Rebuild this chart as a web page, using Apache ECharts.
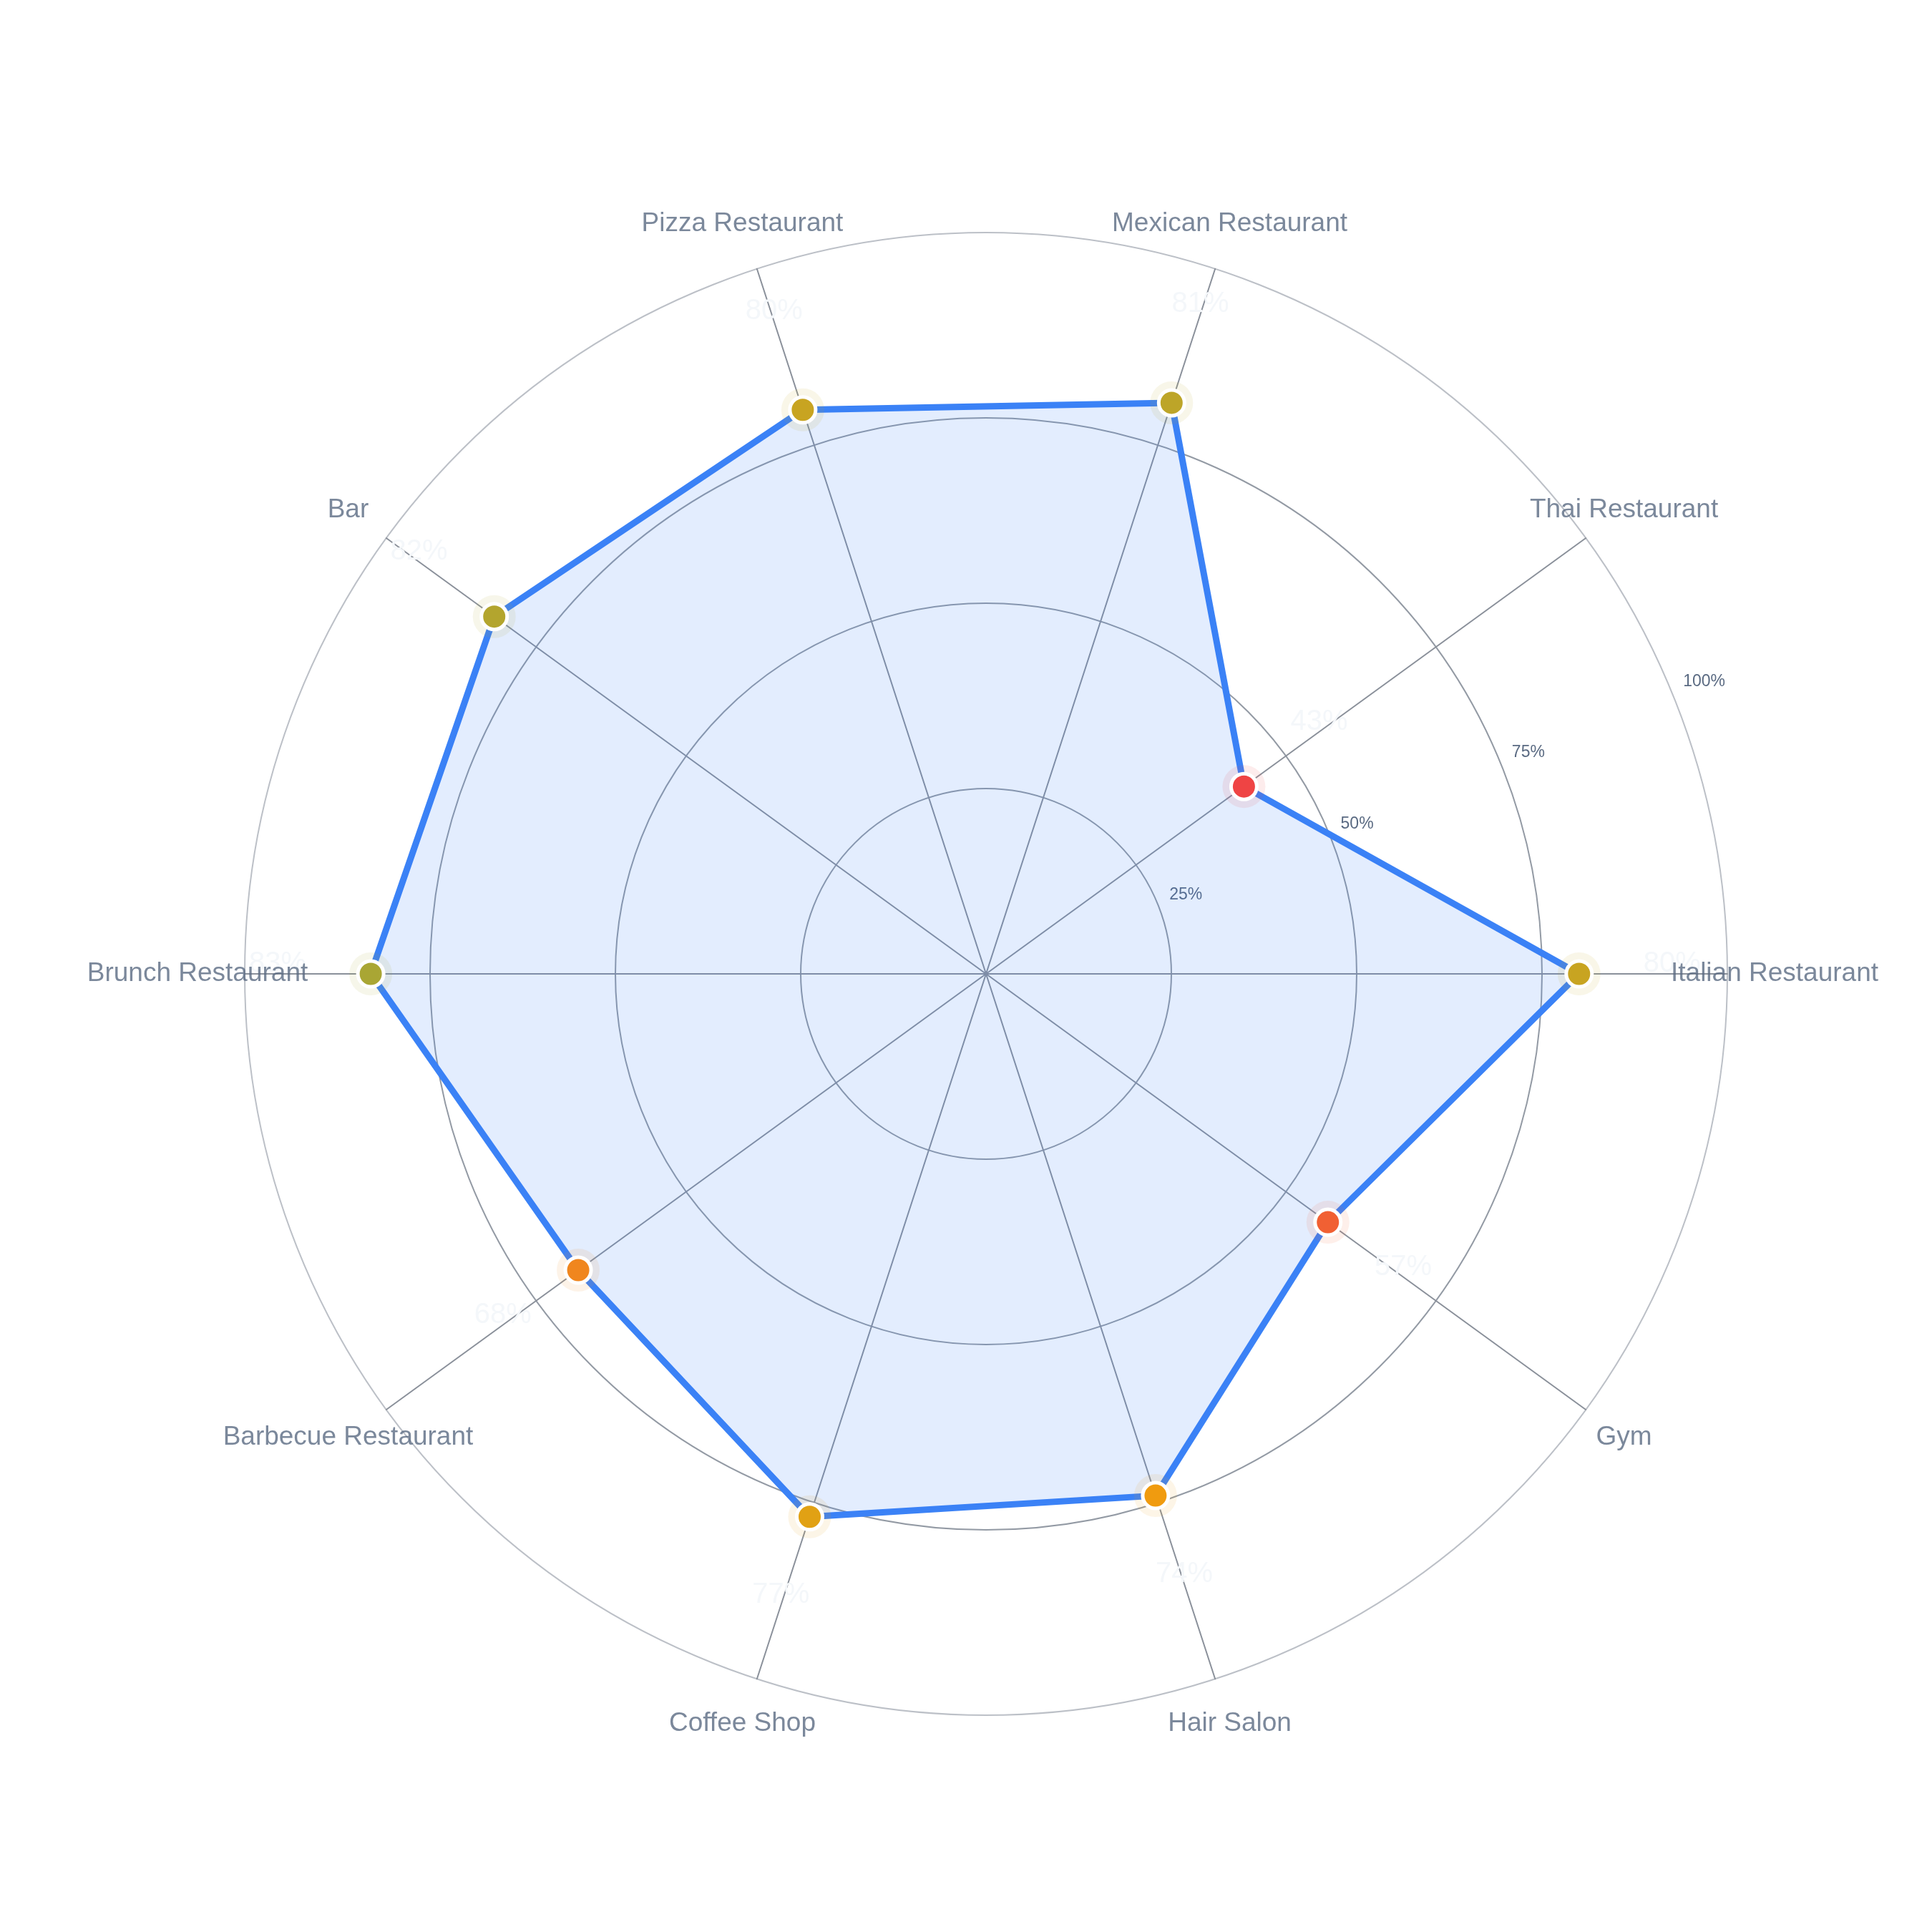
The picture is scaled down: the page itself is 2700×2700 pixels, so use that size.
<!DOCTYPE html>
<html>
<head>
<meta charset="utf-8">
<title>Category score radar</title>
<script src="https://cdn.jsdelivr.net/npm/echarts@6/dist/echarts.min.js"></script>
<style>
  html, body { margin: 0; padding: 0; background: #ffffff; }
  #chart { width: 2700px; height: 2700px; }
</style>
</head>
<body>
<div id="chart"></div>
<script>
  // data
  var categories = [
    'Italian Restaurant', 'Thai Restaurant', 'Mexican Restaurant', 'Pizza Restaurant', 'Bar',
    'Brunch Restaurant', 'Barbecue Restaurant', 'Coffee Shop', 'Hair Salon', 'Gym'
  ];
  var scores = [80, 43, 81, 80, 82, 83, 68, 77, 74, 57];
  var scoreMax = 100;
  var scoreStep = 25;

  // layout
  var center = [1378, 1361];
  var radius = 1036;
  var font = '"Liberation Sans", Arial, sans-serif';
  var slate = '#5a6a82';

  // radial offset along category i's spoke
  function spokeOffset(i, dist, lift) {
    var a = i * 2 * Math.PI / categories.length;
    return [Math.cos(a) * dist, -Math.sin(a) * dist - lift];
  }

  var pointData = scores.map(function (v, i) {
    return { value: [v, categories[i]], label: { offset: spokeOffset(i, 130, 14) } };
  });
  var haloData = scores.map(function (v, i) {
    return { value: [v, categories[i]] };
  });
  var nameData = categories.map(function (c, i) {
    return { value: [scoreMax, c], label: { offset: spokeOffset(i, 66, 0) } };
  });

  var chart = echarts.init(document.getElementById('chart'));
  var option = {
    backgroundColor: '#ffffff',
    animation: false,
    radar: {
      center: center,
      radius: radius,
      startAngle: 0,
      shape: 'circle',
      splitNumber: 4,
      indicator: categories.map(function (c) { return { name: c, min: 0, max: scoreMax }; }),
      axisName: { show: false },
      axisLine: { lineStyle: { color: '#8a909a', width: 2 } },
      axisTick: { show: false },
      axisLabel: { show: false },
      splitArea: { show: false },
      splitLine: {
        lineStyle: { color: ['#939aa4', '#939aa4', '#939aa4', '#939aa4', '#bcc0c7'], width: 2 }
      }
    },
    polar: [
      { center: center, radius: radius },
      { center: center, radius: radius }
    ],
    angleAxis: [
      {
        polarIndex: 0, type: 'category', data: categories, startAngle: 0, clockwise: false,
        boundaryGap: false, axisLine: { show: false }, axisTick: { show: false },
        axisLabel: { show: false }, splitLine: { show: false }
      },
      {
        polarIndex: 1, type: 'value', min: 0, max: 360, startAngle: 22.5, clockwise: false,
        axisLine: { show: false }, axisTick: { show: false },
        axisLabel: { show: false }, splitLine: { show: false }
      }
    ],
    radiusAxis: [
      { polarIndex: 0, min: 0, max: scoreMax, show: false },
      {
        polarIndex: 1, min: 0, max: scoreMax, interval: scoreStep,
        axisLine: { show: false }, axisTick: { show: false }, splitLine: { show: false },
        axisLabel: {
          showMinLabel: false, formatter: '{value}%', margin: 0,
          align: 'left', verticalAlign: 'bottom', padding: [0, 0, 0, 17],
          color: slate, fontSize: 23, fontFamily: font
        }
      }
    ],
    visualMap: {
      show: false,
      type: 'continuous',
      seriesIndex: [1, 2],
      dimension: 0,
      min: 43,
      max: 83,
      inRange: {
        color: ['#ef4444', '#f04d3e', '#f05639', '#f16231', '#f27326', '#f0861e', '#f5990e', '#dca315', '#a9a634']
      }
    },
    series: [
      {
        type: 'radar',
        symbol: 'none',
        lineStyle: { color: '#3b82f6', width: 9 },
        areaStyle: { color: '#3b82f6', opacity: 0.14 },
        data: [{ value: scores, name: 'Score' }]
      },
      {
        // soft halo behind each marker
        type: 'scatter',
        coordinateSystem: 'polar',
        polarIndex: 0,
        symbol: 'circle',
        symbolSize: 60,
        itemStyle: { opacity: 0.1 },
        silent: true,
        data: haloData
      },
      {
        type: 'scatter',
        coordinateSystem: 'polar',
        polarIndex: 0,
        symbol: 'circle',
        symbolSize: 36,
        itemStyle: { borderColor: '#ffffff', borderWidth: 5, opacity: 1 },
        label: {
          show: true,
          position: 'inside',
          formatter: function (p) { return p.value[0] + '%'; },
          color: '#f4f7fa',
          fontSize: 40,
          fontFamily: font
        },
        data: pointData
      },
      {
        type: 'scatter',
        coordinateSystem: 'polar',
        polarIndex: 0,
        symbol: 'circle',
        symbolSize: 1,
        itemStyle: { color: 'rgba(0,0,0,0)' },
        silent: true,
        label: {
          show: true,
          position: 'inside',
          formatter: function (p) { return p.value[1]; },
          color: slate,
          fontSize: 37,
          fontFamily: font
        },
        data: nameData
      }
    ]
  };
  chart.setOption(option);
</script>
</body>
</html>
